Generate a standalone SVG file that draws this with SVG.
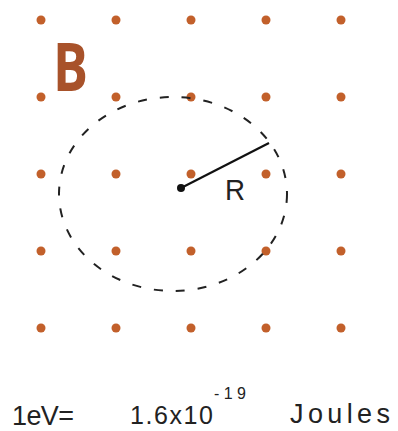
<svg xmlns="http://www.w3.org/2000/svg" width="398" height="431" viewBox="0 0 398 431">
<style>
.dot{fill:#c2602b}
.hand{font-family:"Liberation Sans","DejaVu Sans",sans-serif;fill:#222}
</style>
<rect width="398" height="431" fill="#fff"/>
<g id="dots">
<circle class="dot" cx="41" cy="20" r="4.5"/><circle class="dot" cx="116" cy="20" r="4.5"/><circle class="dot" cx="191" cy="20" r="4.5"/><circle class="dot" cx="266" cy="20" r="4.5"/><circle class="dot" cx="341" cy="20" r="4.5"/>
<circle class="dot" cx="41" cy="97" r="4.5"/><circle class="dot" cx="116" cy="97" r="4.5"/><circle class="dot" cx="191" cy="97" r="4.5"/><circle class="dot" cx="266" cy="97" r="4.5"/><circle class="dot" cx="341" cy="97" r="4.5"/>
<circle class="dot" cx="41" cy="174" r="4.5"/><circle class="dot" cx="116" cy="174" r="4.5"/><circle class="dot" cx="191" cy="174" r="4.5"/><circle class="dot" cx="266" cy="174" r="4.5"/><circle class="dot" cx="341" cy="174" r="4.5"/>
<circle class="dot" cx="41" cy="251" r="4.5"/><circle class="dot" cx="116" cy="251" r="4.5"/><circle class="dot" cx="191" cy="251" r="4.5"/><circle class="dot" cx="266" cy="251" r="4.5"/><circle class="dot" cx="341" cy="251" r="4.5"/>
<circle class="dot" cx="41" cy="328" r="4.5"/><circle class="dot" cx="116" cy="328" r="4.5"/><circle class="dot" cx="191" cy="328" r="4.5"/><circle class="dot" cx="266" cy="328" r="4.5"/><circle class="dot" cx="341" cy="328" r="4.5"/>
</g>
<g id="label-B">
<text x="53" y="91" font-family="'Open Sans','Liberation Sans',sans-serif" font-weight="bold" font-size="66" fill="#a8522a" textLength="35" lengthAdjust="spacingAndGlyphs">B</text>
</g>
<g id="orbit">
<ellipse cx="173" cy="194" rx="114" ry="97" fill="none" stroke="#222" stroke-width="2" stroke-dasharray="9 13"/>
</g>
<g id="radius">
<line x1="181" y1="188" x2="269" y2="143" stroke="#111" stroke-width="2.2"/>
<circle cx="181" cy="188" r="4" fill="#111"/>
<text class="hand" x="225" y="200" font-size="30" textLength="20" lengthAdjust="spacingAndGlyphs">R</text>
</g>
<g id="formula">
<text class="hand" x="12" y="425" font-size="27" textLength="62" lengthAdjust="spacing">1eV=</text>
<text class="hand" x="130" y="424" font-size="25" textLength="83" lengthAdjust="spacing">1.6x10</text>
<text class="hand" x="214" y="399" font-size="16" textLength="32" lengthAdjust="spacing">-19</text>
<text class="hand" x="290" y="423" font-size="27" textLength="100" lengthAdjust="spacing">Joules</text>
</g>
</svg>
